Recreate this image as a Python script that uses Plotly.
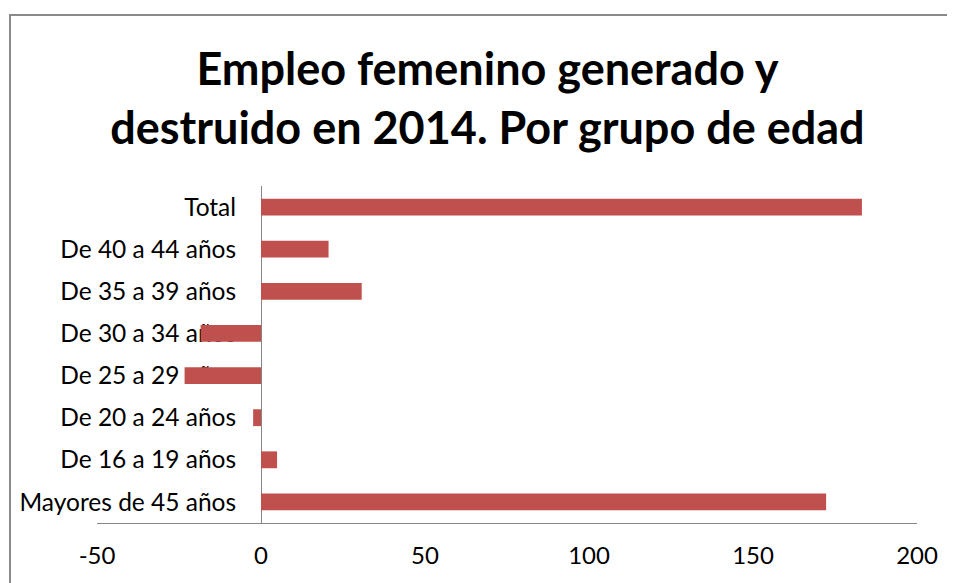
import plotly.graph_objects as go

categories = ["Mayores de 45 años", "De 16 a 19 años", "De 20 a 24 años", "De 25 a 29 años",
              "De 30 a 34 años", "De 35 a 39 años", "De 40 a 44 años", "Total"]
values = [172.3, 4.9, -2.4, -23.3, -18.4, 30.7, 20.6, 183.2]
x_ticks = [-50, 0, 50, 100, 150, 200]
x_tick_labels = ["-50", "0", "50", "100", "150", "200"]

FONT = "Lato"
W, H = 955, 583
L, R, T, B = 89, 46, 178, 68
xmin, xmax = -50, 200

fig = go.Figure(go.Bar(
    y=categories, x=values, orientation="h",
    marker=dict(color="#C0504D", line=dict(width=0)),
))

fig.update_layout(
    width=W, height=H,
    margin=dict(l=L, r=R, t=T, b=B, pad=0),
    paper_bgcolor="white", plot_bgcolor="white",
    showlegend=False,
    bargap=0.6,
    title=dict(text="<b>Empleo femenino generado y<br>destruido en 2014. Por grupo de edad</b>",
               x=0.502, xanchor="center", y=1 - 77 / H, yanchor="middle",
               font=dict(family=FONT, size=45, color="black")),
    xaxis=dict(range=[xmin, xmax], tickvals=x_ticks, ticktext=x_tick_labels,
               showgrid=False, zeroline=False, automargin=False,
               showline=True, linecolor="#868686", linewidth=1, ticks="",
               ticklabelstandoff=11,
               tickfont=dict(family=FONT, size=24, color="black")),
    yaxis=dict(anchor="free", position=(0 - xmin) / (xmax - xmin), automargin=False,
               showgrid=False, zeroline=False, showline=True, linecolor="#868686",
               linewidth=1, ticks="", layer="below traces", ticklabelstandoff=20,
               tickfont=dict(family=FONT, size=24.5, color="black")),
    shapes=[dict(type="rect", xref="paper", yref="paper",
                 x0=-(L - 2) / (W - L - R), x1=1.2,
                 y0=-0.5, y1=(H - B - 7) / (H - T - B),
                 line=dict(color="#8a8a8a", width=2), fillcolor="rgba(0,0,0,0)",
                 layer="below")],
)

fig.write_html("out.html")
